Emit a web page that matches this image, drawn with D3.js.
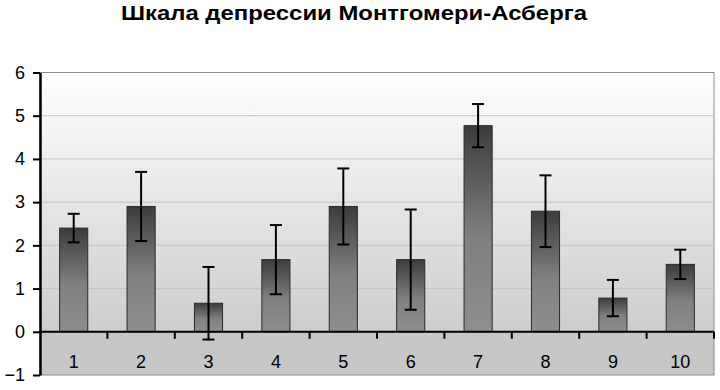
<!DOCTYPE html>
<html>
<head>
<meta charset="utf-8">
<script src="https://cdn.jsdelivr.net/npm/d3@7"></script>
<style>
  body { margin: 0; background: #fff; }
  text { font-family: "Liberation Sans", Arial, sans-serif; }
</style>
</head>
<body>
<svg id="js-svg" width="720" height="390"></svg>
<script>
const categories = ["1", "2", "3", "4", "5", "6", "7", "8", "9", "10"];
const values = [2.4, 2.9, 0.66, 1.67, 2.9, 1.67, 4.77, 2.79, 0.78, 1.56];
const errors = [0.33, 0.8, 0.84, 0.8, 0.88, 1.16, 0.5, 0.83, 0.42, 0.34];
const yTicks = [-1, 0, 1, 2, 3, 4, 5, 6];
const title = "Шкала депрессии Монтгомери-Асберга";

const plotLeft = 40, plotRight = 714, plotTop = 72.5, plotBottom = 375;

const svg = d3.select("#js-svg");
const defs = svg.append("defs");

const bg = defs.append("linearGradient").attr("id", "bg-grad")
  .attr("x1", 0).attr("y1", 0).attr("x2", 0).attr("y2", 1);
bg.append("stop").attr("offset", "0%").attr("stop-color", "#ffffff");
bg.append("stop").attr("offset", "100%").attr("stop-color", "#cdcdcd");

const barGrad = defs.append("linearGradient").attr("id", "bar-grad")
  .attr("x1", 0).attr("y1", 0).attr("x2", 0).attr("y2", 1);
barGrad.append("stop").attr("offset", "0%").attr("stop-color", "#3c3c3c");
barGrad.append("stop").attr("offset", "55%").attr("stop-color", "#808080");
barGrad.append("stop").attr("offset", "100%").attr("stop-color", "#8e8e8e");

const y = d3.scaleLinear().domain([-1, 6]).range([plotBottom, plotTop]);
const x = d3.scaleBand().domain(categories).range([plotLeft, plotRight])
  .paddingInner(0.583).paddingOuter(0.2915);

// title
svg.append("text")
  .attr("x", 121).attr("y", 20)
  .attr("textLength", 466).attr("lengthAdjust", "spacingAndGlyphs")
  .style("font-size", "19.5px").style("font-weight", "bold")
  .text(title);

// plot background
svg.append("rect")
  .attr("x", plotLeft).attr("y", y(6))
  .attr("width", plotRight - plotLeft).attr("height", y(0) - y(6))
  .style("fill", "url(#bg-grad)")
  .style("stroke", "#8c8c8c").style("stroke-width", 1);

// category band
svg.append("rect")
  .attr("x", plotLeft).attr("y", y(0))
  .attr("width", plotRight - plotLeft).attr("height", y(-1) - y(0))
  .style("fill", "#c6c6c6")
  .style("stroke", "#8c8c8c").style("stroke-width", 1);

// gridlines
svg.append("g")
  .selectAll("line")
  .data([1, 2, 3, 4, 5])
  .join("line")
  .attr("x1", plotLeft).attr("x2", plotRight)
  .attr("y1", d => y(d)).attr("y2", d => y(d))
  .style("stroke", "#c4c4c4").style("stroke-width", 1);

// bars
svg.append("g")
  .selectAll("rect")
  .data(values)
  .join("rect")
  .attr("x", (d, i) => x(categories[i]))
  .attr("y", d => y(d))
  .attr("width", x.bandwidth())
  .attr("height", d => y(0) - y(d))
  .style("fill", "url(#bar-grad)")
  .style("stroke", "#2a2a2a").style("stroke-width", 1);

// error bars
const errG = svg.append("g")
  .selectAll("g")
  .data(values)
  .join("g")
  .attr("transform", (d, i) => `translate(${x(categories[i]) + x.bandwidth() / 2},0)`);
errG.append("line")
  .attr("y1", (d, i) => y(d + errors[i])).attr("y2", (d, i) => y(d - errors[i]))
  .style("stroke", "#000").style("stroke-width", 2);
errG.append("line")
  .attr("x1", -6).attr("x2", 6)
  .attr("y1", (d, i) => y(d + errors[i])).attr("y2", (d, i) => y(d + errors[i]))
  .style("stroke", "#000").style("stroke-width", 2);
errG.append("line")
  .attr("x1", -6).attr("x2", 6)
  .attr("y1", (d, i) => y(d - errors[i])).attr("y2", (d, i) => y(d - errors[i]))
  .style("stroke", "#000").style("stroke-width", 2);

// x axis at zero
const step = x.step();
svg.append("line")
  .attr("x1", plotLeft).attr("x2", plotRight)
  .attr("y1", y(0)).attr("y2", y(0))
  .style("stroke", "#000").style("stroke-width", 2);
svg.append("g")
  .selectAll("line")
  .data(categories)
  .join("line")
  .attr("x1", (d, i) => plotLeft + (i + 1) * step).attr("x2", (d, i) => plotLeft + (i + 1) * step)
  .attr("y1", y(0)).attr("y2", y(0) + 7)
  .style("stroke", "#000").style("stroke-width", 2);

// category labels
svg.append("g")
  .selectAll("text")
  .data(categories)
  .join("text")
  .attr("x", d => x(d) + x.bandwidth() / 2)
  .attr("y", 368)
  .attr("text-anchor", "middle")
  .style("font-size", "18px")
  .text(d => d);

// y axis
const yAxis = svg.append("g")
  .attr("transform", `translate(${plotLeft},0)`)
  .call(d3.axisLeft(y).tickValues(yTicks).tickFormat(d3.format("d"))
    .tickSize(7).tickSizeOuter(0).tickPadding(8));
yAxis.select(".domain").style("stroke", "#000").style("stroke-width", 2.5);
yAxis.selectAll(".tick line").style("stroke", "#000").style("stroke-width", 2);
yAxis.selectAll(".tick text")
  .style("font-size", "18px").style("font-family", "Liberation Sans, Arial, sans-serif")
  .attr("fill", "#000");
</script>
</body>
</html>
